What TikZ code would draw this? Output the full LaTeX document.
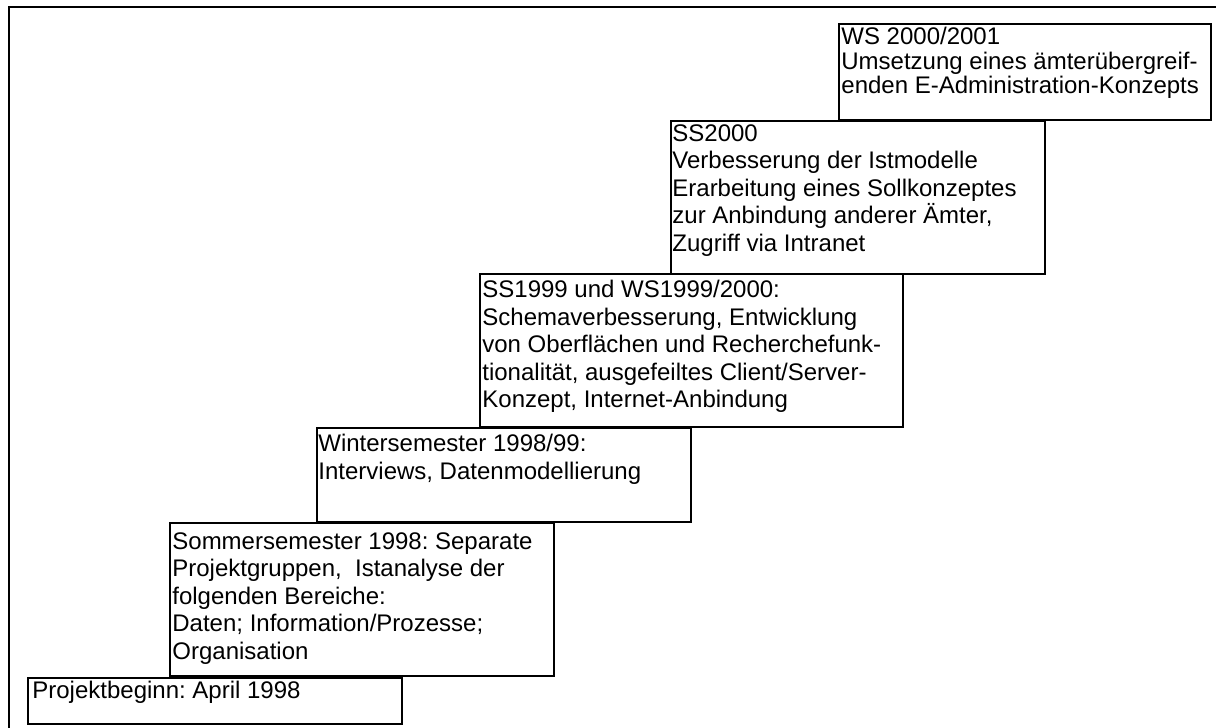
\documentclass[tikz,border=0pt]{standalone}
\usepackage{fontspec}
\setmainfont{Liberation Sans}
\usetikzlibrary{calc}
\tikzset{phasebox/.style={draw=black,line width=1pt,fill=white},
         phasetext/.style={anchor=north west,align=left,inner sep=0pt,font=\fontsize{12}{13.75}\selectfont\frenchspacing}}

\begin{document}
\begin{tikzpicture}[x=0.5pt,y=-0.5pt]
\useasboundingbox (0,0) rectangle (1216,728);
\clip (0,0) rectangle (1216,728);
\draw [line width=1.2pt] (9,7) rectangle (1230,740);

\coordinate (begin)  at (28,678);
\coordinate (sose98) at (170,523);
\coordinate (wise98) at (317,428);
\coordinate (sose99) at (480,274);
\coordinate (sose00) at (671,121);
\coordinate (wise00) at (839,24);

\draw [phasebox] (begin)  rectangle ($(begin)+(374,46)$);
\draw [phasebox] (sose98) rectangle ($(sose98)+(384,153)$);
\draw [phasebox] (wise98) rectangle ($(wise98)+(374,94)$);
\draw [phasebox] (sose99) rectangle ($(sose99)+(423,153)$);
\draw [phasebox] (sose00) rectangle ($(sose00)+(374,153)$);
\draw [phasebox] (wise00) rectangle ($(wise00)+(372,96)$);

\node [phasetext] (begintxt)  at ($(begin)+(4,3)$)   {Projektbeginn: April 1998};
\node [phasetext] (sose98txt) at ($(sose98)+(2,9)$)  {Sommersemester 1998: Separate\\Projektgruppen,\ \ Istanalyse der\\folgenden Bereiche:\\Daten; Information/Prozesse;\\Organisation};
\node [phasetext] (wise98txt) at ($(wise98)+(1,6)$)  {Wintersemester 1998/99:\\Interviews, Datenmodellierung};
\node [phasetext] (sose99txt) at ($(sose99)+(2,6)$)  {SS1999 und WS1999/2000:\\Schemaverbesserung, Entwicklung\\von Oberflächen und Recherchefunk-\\tionalität, ausgefeiltes Client/Server-\\Konzept, Internet-Anbindung};
\node [phasetext] (sose00txt) at ($(sose00)+(1,3)$)  {SS2000\\Verbesserung der Istmodelle\\Erarbeitung eines Sollkonzeptes\\zur Anbindung anderer Ämter,\\Zugriff via Intranet};
\node [phasetext,font=\fontsize{12}{12.3}\selectfont\frenchspacing] (wise00txt) at ($(wise00)+(2,3)$) {WS 2000/2001\\Umsetzung eines ämterübergreif-\\enden E-Administration-Konzepts};

\end{tikzpicture}
\end{document}
